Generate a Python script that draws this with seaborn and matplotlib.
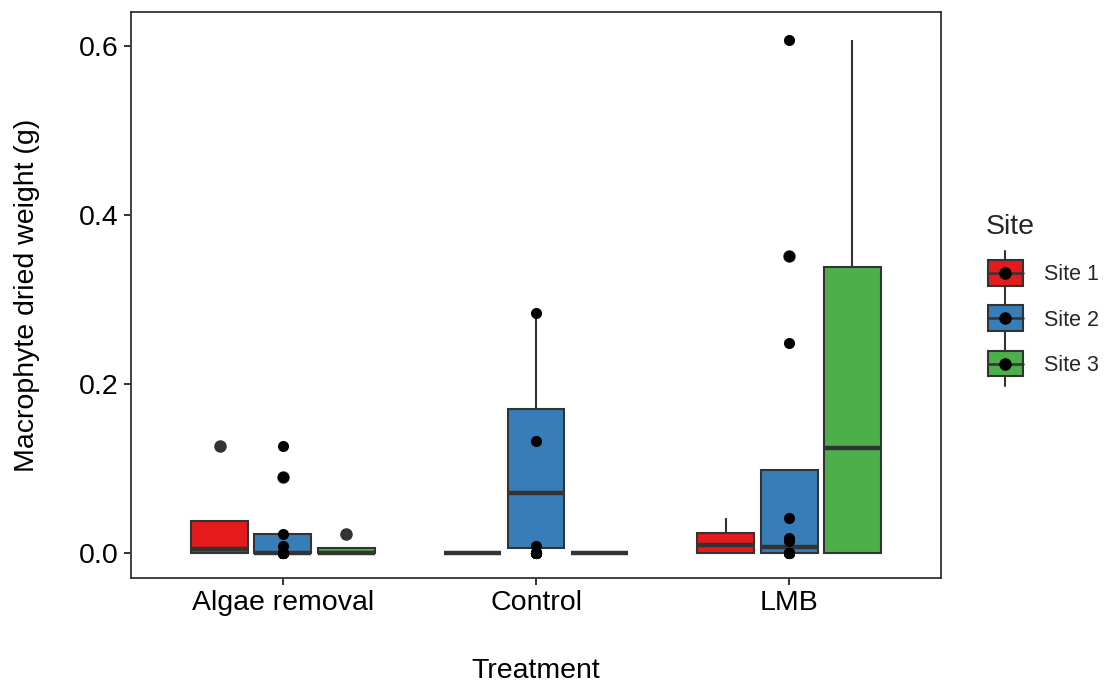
import numpy as np
import pandas as pd
import matplotlib
matplotlib.use("Agg")
import matplotlib.pyplot as plt
import seaborn as sns
from matplotlib.legend_handler import HandlerBase
from matplotlib.patches import Rectangle
from matplotlib.lines import Line2D

# ---- data ----
treatments = ["Algae removal", "Control", "LMB"]
sites = ["Site 1", "Site 2", "Site 3"]
algae_site1 = [0.0, 0.0, 0.0083, 0.127]
algae_site2 = [0.0, 0.0, 0.0, 0.090]
algae_site3 = [0.0, 0.0, 0.0, 0.022]
control_site1 = [0.0, 0.0, 0.0, 0.0]
control_site2 = [0.0, 0.008, 0.133, 0.284]
control_site3 = [0.0, 0.0, 0.0, 0.0]
lmb_site1 = [0.0, 0.0, 0.018, 0.041]
lmb_site2 = [0.0, 0.0, 0.014, 0.352]
lmb_site3 = [0.0, 0.0, 0.249, 0.607]
site_colors = ["#E41A1C", "#377EB8", "#4DAF4A"]
y_ticks = [0.0, 0.2, 0.4, 0.6]
y_tick_labels = ["0.0", "0.2", "0.4", "0.6"]

groups = {
    ("Algae removal", "Site 1"): algae_site1,
    ("Algae removal", "Site 2"): algae_site2,
    ("Algae removal", "Site 3"): algae_site3,
    ("Control", "Site 1"): control_site1,
    ("Control", "Site 2"): control_site2,
    ("Control", "Site 3"): control_site3,
    ("LMB", "Site 1"): lmb_site1,
    ("LMB", "Site 2"): lmb_site2,
    ("LMB", "Site 3"): lmb_site3,
}
rows = []
for (t, s), vals in groups.items():
    for v in vals:
        rows.append({"Treatment": t, "Site": s, "Weight": v})
df = pd.DataFrame(rows)

sns.set_style("white")
plt.rcParams["font.family"] = ["Liberation Sans", "DejaVu Sans"]

fig = plt.figure(figsize=(11.07, 6.84), dpi=100)
ax = fig.add_axes([131 / 1107, 1 - 578 / 684, (941 - 131) / 1107, (578 - 12) / 684])

line_col = "#333333"
sns.boxplot(
    data=df, x="Treatment", y="Weight", hue="Site",
    order=treatments, hue_order=sites, palette=site_colors,
    width=0.75, gap=0.1, linecolor=line_col, linewidth=1.5,
    showcaps=False, saturation=1,
    flierprops=dict(marker="o", markerfacecolor=line_col, markeredgecolor=line_col,
                    markersize=8),
    medianprops=dict(linewidth=3.2, color=line_col),
    legend=False, ax=ax,
)
sns.stripplot(
    data=df, x="Treatment", y="Weight", order=treatments,
    color="black", jitter=False, size=8, linewidth=0, zorder=5, ax=ax,
)

ax.set_xlim(-0.6, 2.6)
ax.set_ylim(-0.0296, 0.6402)
ax.set_yticks(y_ticks)
ax.set_yticklabels(y_tick_labels)
ax.set_xlabel("Treatment", fontsize=20.5, labelpad=30, color="black")
ax.set_ylabel("Macrophyte dried weight (g)", fontsize=20.5, labelpad=28, color="black")
ax.tick_params(axis="both", which="major", labelsize=20.5, length=5, width=1.4,
               color=line_col, labelcolor="black", direction="out", pad=4,
               bottom=True, left=True)
for sp in ax.spines.values():
    sp.set_visible(True)
    sp.set_color(line_col)
    sp.set_linewidth(1.3)
ax.grid(False)


class BoxKeyHandler(HandlerBase):
    def __init__(self, color):
        super().__init__()
        self.color = color

    def create_artists(self, legend, orig_handle, xdescent, ydescent, width, height,
                       fontsize, trans):
        x0, y0 = -xdescent, -ydescent
        bw = width * 0.92
        bx = x0 + (width - bw) / 2
        bh = height * 1.25
        by = y0 + (height - bh) / 2
        rect = Rectangle((bx, by), bw, bh, facecolor=self.color, edgecolor=line_col,
                         linewidth=1.5, transform=trans)
        cx = x0 + width / 2
        cy = y0 + height / 2
        med = Line2D([bx, bx + bw], [cy, cy], color=line_col, linewidth=1.8,
                     transform=trans)
        wh1 = Line2D([cx, cx], [by + bh, by + bh + height * 0.45], color=line_col,
                     linewidth=1.5, transform=trans)
        wh2 = Line2D([cx, cx], [by, by - height * 0.45], color=line_col,
                     linewidth=1.5, transform=trans)
        dot = Line2D([cx], [cy], marker="o", color="black", markersize=8,
                     linestyle="none", transform=trans)
        return [wh1, wh2, rect, med, dot]


handles = [Rectangle((0, 0), 1, 1) for _ in sites]
handler_map = {h: BoxKeyHandler(c) for h, c in zip(handles, site_colors)}
leg = ax.legend(
    handles, sites, title="Site", handler_map=handler_map,
    loc="center left", bbox_to_anchor=(1.045, 0.5), frameon=False,
    fontsize=15.5, title_fontsize=20.5, handlelength=1.8, handleheight=1.1,
    labelspacing=1.05, handletextpad=0.9, borderaxespad=0,
)
leg._legend_box.align = "left"

fig.savefig("out.png", dpi=100)
